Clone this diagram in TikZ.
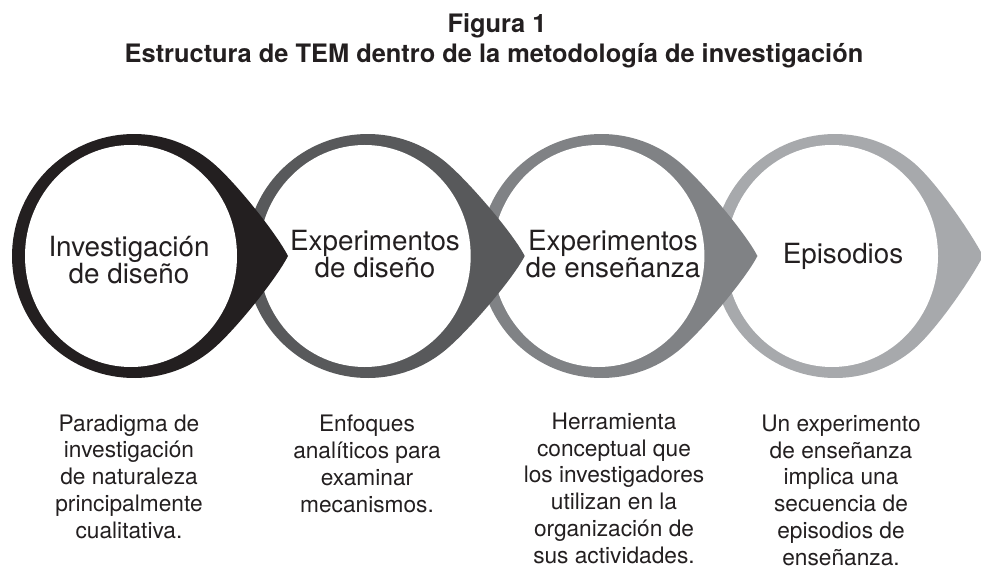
\documentclass[tikz,border=0pt]{standalone}
\usepackage{fontspec}
\setmainfont{TeX Gyre Heros}
\usetikzlibrary{calc}
\definecolor{ink}{HTML}{231F20}
\definecolor{ringA}{HTML}{231F20}
\definecolor{ringB}{HTML}{58595B}
\definecolor{ringC}{HTML}{808285}
\definecolor{ringD}{HTML}{A7A9AC}
\newcommand\ringshape[4]{%
  \coordinate (#4) at (#1,-256);
  \fill[#2] ($(#4)+(50:122)$)
     .. controls ($(#4)+(50:122)+(23,-19.3)$) and ($(#4)+(#3,0)+(-11.4,22.3)$) .. ($(#4)+(#3,0)$)
     .. controls ($(#4)+(#3,0)+(-11.4,-22.3)$) and ($(#4)+(-50:122)+(23,19.3)$) .. ($(#4)+(-50:122)$)
     arc[start angle=-50,end angle=-310,radius=122] -- cycle;
  \fill[white] ($(#4)+(-3,0)$) ellipse[x radius=106,y radius=111];
}
\begin{document}
\begin{tikzpicture}[x=1pt,y=1pt,
  lbl/.style={align=center,inner sep=0pt,anchor=base,text=ink,font=\fontsize{27.8}{27}\selectfont},
  desc/.style={align=center,inner sep=0pt,anchor=base,text=ink,font=\fontsize{22.7}{26.7}\selectfont},
  ttl/.style={inner sep=0pt,anchor=base,text=ink,font=\bfseries\fontsize{25.4}{30}\selectfont}]
\useasboundingbox (0,0) rectangle (981,-569);
\begin{scope}
\clip (0,0) rectangle (981,-569);
\ringshape{835}{ringD}{148}{c4}
\ringshape{601.4}{ringC}{156}{c3}
\ringshape{367.7}{ringB}{157}{c2}
\ringshape{134}{ringA}{154}{c1}
\end{scope}
\node[ttl] (t1) at (497,-33) {Figura 1};
\node[ttl] (t2) at (494,-63) {Estructura de TEM dentro de la metodología de investigación};
\node[lbl] (l1) at (129,-283) {Investigación\\de diseño};
\node[lbl] (l2) at (375,-277) {Experimentos\\de diseño};
\node[lbl] (l3) at (613,-277) {Experimentos\\de enseñanza};
\node[lbl] (l4) at (843,-263) {Episodios};
\node[desc] (d1) at (129,-538) {Paradigma de\\investigación\\de naturaleza\\principalmente\\cualitativa.};
\node[desc] (d2) at (367,-512) {Enfoques\\analíticos para\\examinar\\mecanismos.};
\node[desc] (d3) at (614,-563) {Herramienta\\conceptual que\\los investigadores\\utilizan en la\\organización de\\sus actividades.};
\node[desc] (d4) at (841,-565) {Un experimento\\de enseñanza\\implica una\\secuencia de\\episodios de\\enseñanza.};
\end{tikzpicture}
\end{document}
